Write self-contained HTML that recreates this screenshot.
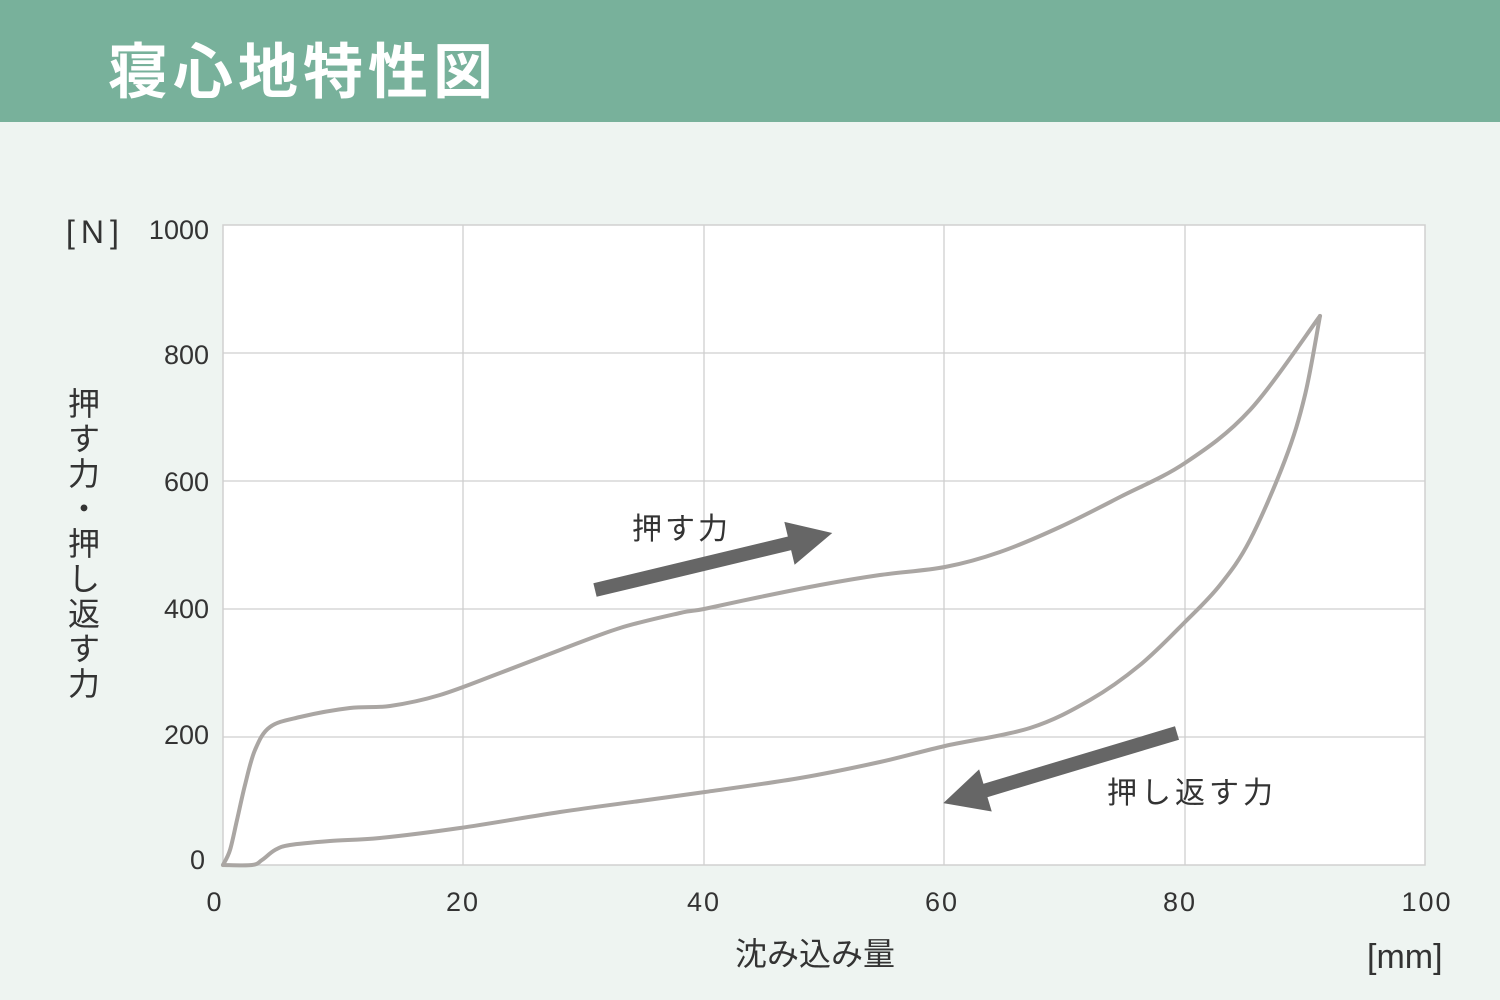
<!DOCTYPE html>
<html><head><meta charset="utf-8"><style>
body{margin:0;width:1500px;height:1000px;background:#eef4f1;overflow:hidden;font-family:"Liberation Sans","Noto Sans CJK JP",sans-serif}
</style></head><body>
<svg width="1500" height="1000" xmlns="http://www.w3.org/2000/svg" style="position:absolute;left:0;top:0">
<rect x="0" y="0" width="1500" height="122" fill="#78b19b"/>
<text x="108" y="93" font-size="60" font-weight="bold" fill="#fff" font-family="Noto Sans CJK JP,sans-serif" letter-spacing="5">寝心地特性図</text>
<rect x="223" y="225" width="1202" height="640" fill="#fff" stroke="#d0d0d0" stroke-width="1.5"/>
<g stroke="#cfcfcf" stroke-width="1.3">
<line x1="463" y1="225" x2="463" y2="865"/><line x1="704" y1="225" x2="704" y2="865"/>
<line x1="944" y1="225" x2="944" y2="865"/><line x1="1185" y1="225" x2="1185" y2="865"/>
<line x1="223" y1="353" x2="1425" y2="353"/><line x1="223" y1="481" x2="1425" y2="481"/>
<line x1="223" y1="609" x2="1425" y2="609"/><line x1="223" y1="737" x2="1425" y2="737"/>
</g>
<g font-family="Liberation Sans,Noto Sans CJK JP,sans-serif" font-size="27" fill="#333">
<g text-anchor="end"><text x="209" y="239">1000</text><text x="209" y="364">800</text><text x="209" y="491">600</text><text x="209" y="618">400</text><text x="209" y="744">200</text><text x="205" y="869">0</text></g>
<g text-anchor="middle" letter-spacing="2"><text x="215" y="911">0</text><text x="463" y="911">20</text><text x="704" y="911">40</text><text x="942" y="911">60</text><text x="1180" y="911">80</text><text x="1427" y="911">100</text></g>
<text x="66" y="243" font-size="32" letter-spacing="6">[N]</text>
<text x="1367" y="968" font-size="34">[mm]</text>
<text x="735" y="965" font-size="32" font-family="Noto Sans CJK JP,sans-serif">沈み込み量</text>
<text x="632" y="539" font-size="30" font-family="Noto Sans CJK JP,sans-serif" letter-spacing="3">押す力</text>
<text x="1107" y="803" font-size="30" font-family="Noto Sans CJK JP,sans-serif" letter-spacing="4">押し返す力</text>
</g>
<g font-family="Noto Sans CJK JP,sans-serif" font-size="32" fill="#333" text-anchor="middle">
<text x="84" y="415">押</text><text x="84" y="450">す</text><text x="84" y="485">力</text><text x="84" y="520">・</text><text x="84" y="555">押</text><text x="84" y="590">し</text><text x="84" y="625">返</text><text x="84" y="660">す</text><text x="84" y="695">力</text>
</g>
<g fill="none" stroke="#aaa6a3" stroke-width="4" stroke-linecap="round" stroke-linejoin="round">
<path id="up" d=""/>
<path id="lo" d=""/>
</g>
<g fill="#666">
<g transform="translate(595,590) rotate(-13.5)"><rect x="0" y="-7" width="205" height="14"/><polygon points="200,-22 244,0 200,22"/></g>
<g transform="translate(1177,733) rotate(163.3)"><rect x="0" y="-7" width="205" height="14"/><polygon points="200,-22 244,0 200,22"/></g>
</g>
</svg>
<script>
function cr(p){var d="M"+p[0][0]+","+p[0][1];for(var i=0;i<p.length-1;i++){var a=p[i-1]||p[i],b=p[i],c=p[i+1],e=p[i+2]||c;d+=" C"+(b[0]+(c[0]-a[0])/6).toFixed(1)+","+(b[1]+(c[1]-a[1])/6).toFixed(1)+" "+(c[0]-(e[0]-b[0])/6).toFixed(1)+","+(c[1]-(e[1]-b[1])/6).toFixed(1)+" "+c[0]+","+c[1];}return d;}
var up=[[223,865],[230,850],[237,820],[245,785],[255,750],[270,727],[300,717],[350,708],[390,706],[440,695],[500,673],[560,650],[620,628],[680,613],[704,609],[760,597],[820,585],[880,575],[945,567],[1000,552],[1060,527],[1120,497],[1185,463],[1250,410],[1320,316]];
var lo=[[1320,316],[1305,395],[1285,460],[1250,540],[1220,585],[1185,622],[1140,665],[1090,700],[1030,728],[945,746],[880,762],[800,778],[705,792],[640,801],[560,812],[460,828],[380,838],[330,841],[290,845],[275,850],[262,860],[252,865],[223,865]];
document.getElementById("up").setAttribute("d",cr(up));
document.getElementById("lo").setAttribute("d",cr(lo));
</script>
</body></html>
